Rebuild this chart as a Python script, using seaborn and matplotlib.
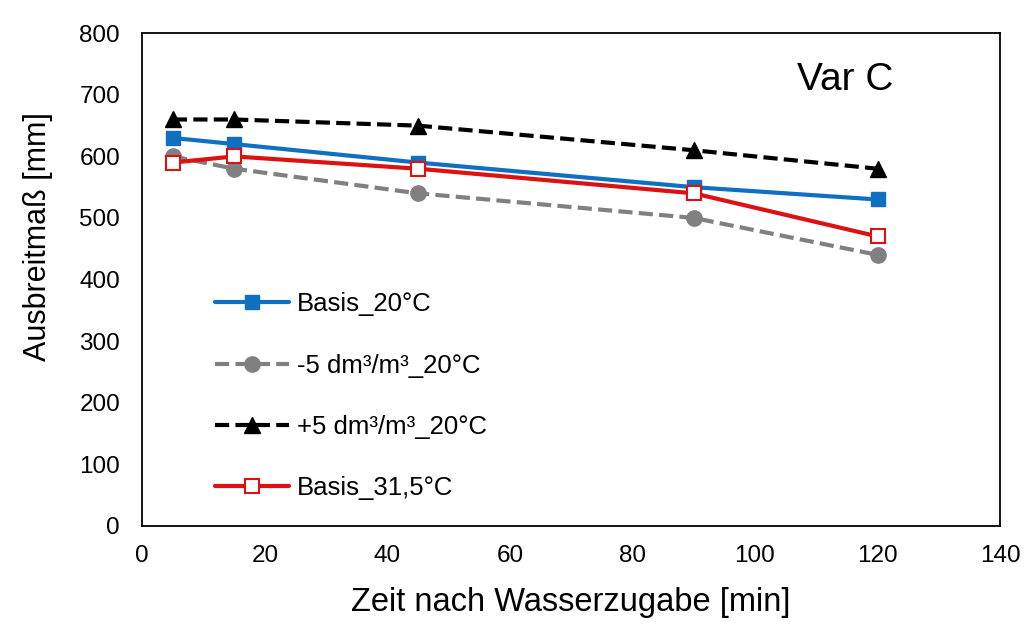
import pandas as pd
import seaborn as sns
import matplotlib.pyplot as plt

# Data
zeit = [5, 15, 45, 90, 120]
basis_20 = [630, 620, 590, 550, 530]
minus5_20 = [600, 580, 540, 500, 440]
plus5_20 = [660, 660, 650, 610, 580]
basis_315 = [590, 600, 580, 540, 470]

labels = ['Basis_20°C', '-5 dm³/m³_20°C', '+5 dm³/m³_20°C', 'Basis_31,5°C']
series = [basis_20, minus5_20, plus5_20, basis_315]

df = pd.DataFrame({
    'zeit': zeit * len(labels),
    'wert': sum(series, []),
    'serie': [l for l in labels for _ in zeit],
})

sns.set_style('white')
plt.rcParams['font.family'] = ['Liberation Sans', 'DejaVu Sans']
plt.rcParams['text.color'] = 'black'
plt.rcParams['axes.labelcolor'] = 'black'
plt.rcParams['xtick.color'] = 'black'
plt.rcParams['ytick.color'] = 'black'

fig = plt.figure(figsize=(10.31, 6.41), dpi=100)
ax = fig.add_axes([0.138, 0.18, 0.832, 0.768])

dash = (0, (3.4, 1.5))
styles = {
    'Basis_20°C': dict(color='#0F6FC0', ls='-', marker='s', mfc='#0F6FC0', mec='#0F6FC0', ms=10.5),
    '-5 dm³/m³_20°C': dict(color='#808080', ls=dash, marker='o', mfc='#808080', mec='#808080', ms=11),
    '+5 dm³/m³_20°C': dict(color='black', ls=dash, marker='^', mfc='black', mec='black', ms=11),
    'Basis_31,5°C': dict(color='#DD1111', ls='-', marker='s', mfc='white', mec='#DD1111', ms=10.5, mew=1.5),
}

for lab in labels:
    st = styles[lab]
    sns.lineplot(data=df[df['serie'] == lab], x='zeit', y='wert', ax=ax,
                 label=lab, color=st['color'], linewidth=3, linestyle=st['ls'],
                 marker=st['marker'], markerfacecolor=st['mfc'],
                 markeredgecolor=st['mec'], markersize=st['ms'],
                 markeredgewidth=st.get('mew', 1))

ax.set_xlim(0, 140)
ax.set_ylim(0, 800)
ax.set_xticks(range(0, 141, 20))
ax.set_yticks(range(0, 801, 100))
ax.tick_params(axis='both', labelsize=17.5, length=0)
ax.tick_params(axis='y', pad=16)
ax.tick_params(axis='x', pad=14)
ax.set_xlabel('Zeit nach Wasserzugabe [min]', fontsize=23.5, labelpad=14)
ax.set_ylabel('Ausbreitmaß [mm]', fontsize=22)
ax.yaxis.set_label_coords(-0.104, 0.587)

for sp in ax.spines.values():
    sp.set_color('black')
    sp.set_linewidth(1.3)

ax.text(0.82, 0.905, 'Var C', transform=ax.transAxes, fontsize=28,
        ha='center', va='center')

ax.legend(loc='lower left', bbox_to_anchor=(0.0575, 0.005), frameon=False,
          fontsize=18.5, labelspacing=1.45, handlelength=2.9, handletextpad=0.3)

fig.savefig('out.png', dpi=100)
